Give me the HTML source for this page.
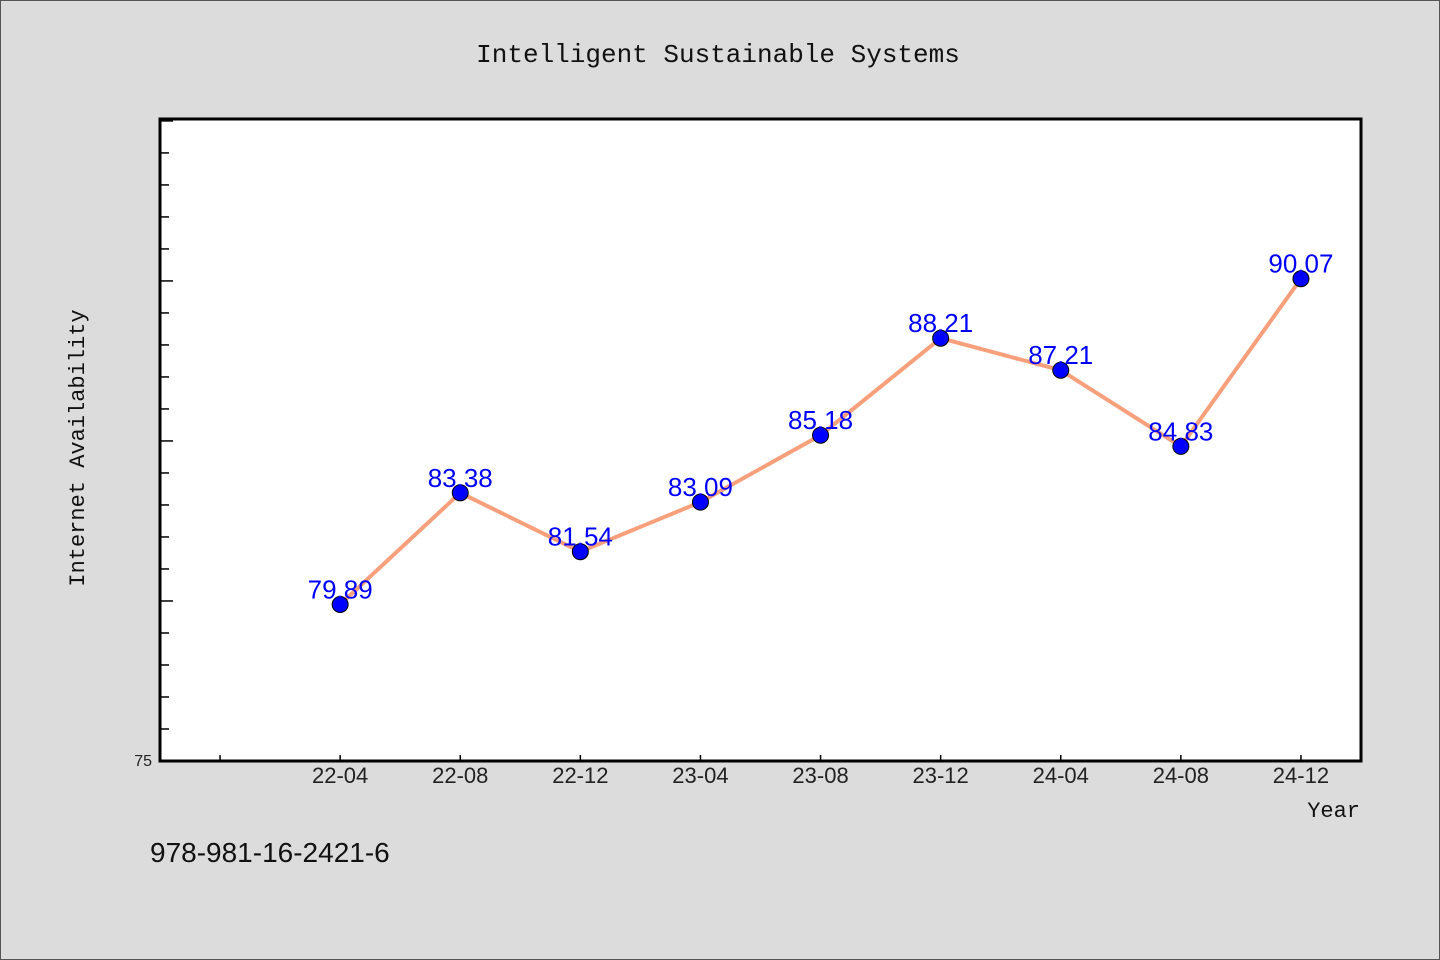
<!DOCTYPE html>
<html><head><meta charset="utf-8"><style>
html,body{margin:0;padding:0;background:#dcdcdc;}
svg{display:block}
</style></head><body>
<svg id="chart" width="1440" height="960" xmlns="http://www.w3.org/2000/svg">
<rect x="0.5" y="0.5" width="1439" height="959" fill="#dcdcdc" stroke="#555"/>
<text x="718" y="62" text-anchor="middle" font-family="Liberation Mono, monospace" font-size="26" fill="#111">Intelligent Sustainable Systems</text>
<rect x="160" y="119" width="1201" height="642" fill="#fff" stroke="#000" stroke-width="3"/>
<text transform="translate(84,448) rotate(-90)" text-anchor="middle" font-family="Liberation Mono, monospace" font-size="22" fill="#111">Internet Availability</text>
<text x="1360" y="817" text-anchor="end" font-family="Liberation Mono, monospace" font-size="22" fill="#111">Year</text>
<text x="150" y="862" font-family="Liberation Sans, sans-serif" font-size="28" fill="#111">978-981-16-2421-6</text>
<g id="axes"></g>
<g id="series"></g>
</svg>
<script>
const categories = ["", "22-04","22-08","22-12","23-04","23-08","23-12","24-04","24-08","24-12"];
const values = [null, 79.89, 83.38, 81.54, 83.09, 85.18, 88.21, 87.21, 84.83, 90.07];
const yTickLabels = ["75"];
const yMin = 75, yMax = 95.06;
const NS = "http://www.w3.org/2000/svg";
const L = 160, R = 1361, T = 119, B = 761;
function xPos(i){ return L + (R - L) * (i + 0.5) / categories.length; }
function yPos(v){ return B - (B - T) * (v - yMin) / (yMax - yMin); }
function mk(tag, attrs, parent){ const e = document.createElementNS(NS, tag); for (const k in attrs) e.setAttribute(k, attrs[k]); parent.appendChild(e); return e; }
const axes = document.getElementById('axes');
for (let v = yMin + 1; v < yMax; v++) {
  const major = (v % 5 === 0);
  const t = mk('line', {x1: L, x2: L + (major ? 13 : 9), y1: yPos(v), y2: yPos(v), stroke: '#000', 'stroke-width': 1.5}, axes);
  
  
}
yTickLabels.forEach(s => {
  const t = mk('text', {x: 152, y: yPos(+s) + 5, 'text-anchor': 'end', 'font-family': 'Liberation Sans, sans-serif', 'font-size': 16, fill: '#222'}, axes);
  t.textContent = s;
  
  
});
categories.forEach((c, i) => {
  const x = xPos(i);
  const t = mk('line', {x1: x, x2: x, y1: B, y2: B - 6, stroke: '#000', 'stroke-width': 1.5}, axes);
  
  
  if (c) {
    const lb = mk('text', {x: x, y: 783, 'text-anchor': 'middle', 'font-family': 'Liberation Sans, sans-serif', 'font-size': 22, fill: '#222'}, axes);
    lb.textContent = c;
    
    
  }
});
const series = document.getElementById('series');
const pts = [];
values.forEach((v, i) => { if (v !== null) pts.push([xPos(i), yPos(v), v]); });
const line = mk('polyline', {points: pts.map(p => p[0] + ',' + p[1]).join(' '), fill: 'none', stroke: '#f8a07c', 'stroke-width': 4, 'stroke-linejoin': 'round'}, series);


pts.forEach(p => {
  const c = mk('circle', {cx: p[0], cy: p[1], r: 8, fill: '#0000ff', stroke: '#000', 'stroke-width': 1}, series);
  
  
});
pts.forEach(p => {
  const t = mk('text', {x: p[0], y: p[1] - 6, 'text-anchor': 'middle', 'font-family': 'Liberation Sans, sans-serif', 'font-size': 26, fill: '#0000ff'}, series);
  t.textContent = p[2].toFixed(2);
  
  
});
</script>
</body></html>
